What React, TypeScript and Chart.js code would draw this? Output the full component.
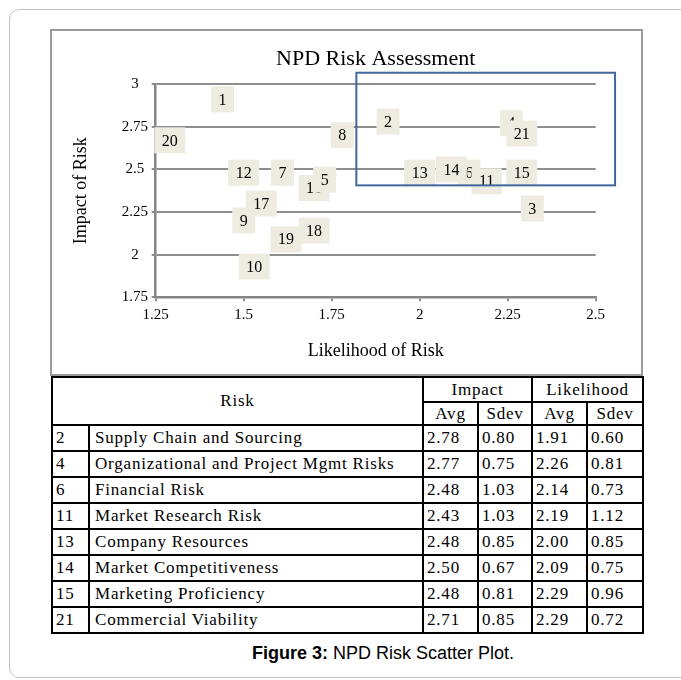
import React, { useEffect, useRef } from "react";
import { Chart, registerables } from "chart.js";

Chart.register(...registerables);

// ---- Scatter data (drawn in this order so overlapping labels stack like the reference)
const RISK_IDS = ["20", "1", "8", "2", "12", "7", "16", "5", "17", "9", "19", "18", "10", "13", "6", "14", "11", "4", "21", "15", "3"];
const LIKELIHOOD = [1.29, 1.44, 1.78, 1.91, 1.5, 1.61, 1.7, 1.73, 1.55, 1.5, 1.62, 1.7, 1.53, 2.0, 2.14, 2.09, 2.19, 2.26, 2.29, 2.29, 2.32];
const IMPACT = [2.67, 2.91, 2.7, 2.78, 2.48, 2.48, 2.39, 2.44, 2.3, 2.2, 2.09, 2.14, 1.93, 2.48, 2.48, 2.5, 2.43, 2.77, 2.71, 2.48, 2.27];

// High-risk region outline (data coordinates)
const HIGH_RISK_LIKELIHOOD = [1.82, 2.555];
const HIGH_RISK_IMPACT = [2.406, 3.066];

const X_TICKS = [1.25, 1.5, 1.75, 2, 2.25, 2.5];
const Y_TICKS = [1.75, 2, 2.25, 2.5, 2.75, 3];

// ---- Table data
const TABLE_IDS = ["2", "4", "6", "11", "13", "14", "15", "21"];
const TABLE_RISKS = [
  "Supply Chain and Sourcing",
  "Organizational and Project Mgmt Risks",
  "Financial Risk",
  "Market Research Risk",
  "Company Resources",
  "Market Competitiveness",
  "Marketing Proficiency",
  "Commercial Viability",
];
const TABLE_IMPACT_AVG = ["2.78", "2.77", "2.48", "2.43", "2.48", "2.50", "2.48", "2.71"];
const TABLE_IMPACT_SDEV = ["0.80", "0.75", "1.03", "1.03", "0.85", "0.67", "0.81", "0.85"];
const TABLE_LIKELIHOOD_AVG = ["1.91", "2.26", "2.14", "2.19", "2.00", "2.09", "2.29", "2.29"];
const TABLE_LIKELIHOOD_SDEV = ["0.60", "0.81", "0.73", "1.12", "0.85", "0.75", "0.96", "0.72"];

const SERIF = "'Liberation Serif', 'Times New Roman', serif";
const SANS = "'Liberation Sans', Arial, sans-serif";
const GRID = "#8e8e8e";
const AXIS = "#858585";

const CANVAS_W = 589;
const CANVAS_H = 343;

const tickText = (v: any) => String(Number(v));

export default function App() {
  const ref = useRef<HTMLCanvasElement>(null);

  useEffect(() => {
    const canvas = ref.current;
    if (!canvas) return;

    const labelPlugin = {
      id: "riskLabels",
      afterDatasetsDraw(chart: any) {
        const ctx = chart.ctx;
        const meta = chart.getDatasetMeta(0);
        ctx.save();
        ctx.font = `16px ${SERIF}`;
        ctx.textAlign = "center";
        ctx.textBaseline = "middle";
        meta.data.forEach((el: any, i: number) => {
          const text = RISK_IDS[i];
          const w = ctx.measureText(text).width + 15;
          const h = 26;
          ctx.fillStyle = "#EEECE1";
          ctx.fillRect(el.x - w / 2, el.y - h / 2, w, h);
          ctx.fillStyle = "#000";
          ctx.fillText(text, el.x, el.y + 1);
        });
        ctx.restore();
      },
    };

    const regionPlugin = {
      id: "highRiskRegion",
      afterDraw(chart: any) {
        const ctx = chart.ctx;
        const xs = chart.scales.x;
        const ys = chart.scales.y;
        const l = xs.getPixelForValue(HIGH_RISK_LIKELIHOOD[0]);
        const r = xs.getPixelForValue(HIGH_RISK_LIKELIHOOD[1]);
        const t = ys.getPixelForValue(HIGH_RISK_IMPACT[1]);
        const b = ys.getPixelForValue(HIGH_RISK_IMPACT[0]);
        ctx.save();
        ctx.strokeStyle = "#41669B";
        ctx.lineWidth = 2;
        ctx.strokeRect(l, t, r - l, b - t);
        ctx.restore();
      },
    };

    const chart = new Chart(canvas, {
      type: "scatter",
      data: {
        datasets: [
          {
            data: LIKELIHOOD.map((v, i) => ({ x: v, y: IMPACT[i] })),
            pointRadius: 0,
            pointHoverRadius: 0,
            showLine: false,
          },
        ],
      },
      options: {
        animation: false,
        responsive: false,
        devicePixelRatio: 1,
        events: [],
        layout: { padding: { left: 0, right: 45.3, top: 0, bottom: 0 } },
        plugins: {
          legend: { display: false },
          tooltip: { enabled: false },
          title: {
            display: true,
            text: "NPD Risk Assessment",
            fullSize: false,
            color: "#000",
            font: { family: SERIF, size: 22, weight: "normal" },
            padding: { top: 14.7, bottom: 11.9 },
          },
        },
        scales: {
          x: {
            type: "linear",
            min: 1.25,
            max: 2.5,
            afterBuildTicks: (s: any) => {
              s.ticks = X_TICKS.map((v) => ({ value: v }));
            },
            afterFit: (s: any) => {
              s.height = 76.7;
            },
            grid: {
              display: true,
              drawOnChartArea: false,
              drawTicks: true,
              tickLength: 4,
              color: GRID,
              lineWidth: 2,
            },
            border: { display: true, color: AXIS, width: 2.5 },
            ticks: {
              color: "#000",
              font: { family: SERIF, size: 15 },
              padding: 5,
              maxRotation: 0,
              callback: tickText,
            },
            title: {
              display: true,
              text: "Likelihood of Risk",
              color: "#000",
              font: { family: SERIF, size: 18 },
              padding: { top: 0, bottom: 11.9 },
            },
          },
          y: {
            type: "linear",
            min: 1.75,
            max: 3,
            afterBuildTicks: (s: any) => {
              s.ticks = Y_TICKS.map((v) => ({ value: v }));
            },
            afterFit: (s: any) => {
              s.width = 103.7;
            },
            grid: {
              display: true,
              drawOnChartArea: true,
              drawTicks: true,
              tickLength: 4,
              color: GRID,
              lineWidth: 2,
            },
            border: { display: true, color: AXIS, width: 2.5 },
            ticks: {
              color: "#000",
              font: { family: SERIF, size: 15 },
              padding: 3.6,
              crossAlign: "center",
              callback: tickText,
            },
            title: {
              display: true,
              text: "Impact of Risk",
              color: "#000",
              font: { family: SERIF, size: 18 },
              padding: { top: 18.2, bottom: 0 },
            },
          },
        },
      },
      plugins: [labelPlugin, regionPlugin],
    } as any);

    return () => chart.destroy();
  }, []);

  const cellBase: React.CSSProperties = {
    background: "#fff",
    display: "flex",
    alignItems: "center",
    fontFamily: SERIF,
    fontSize: 17,
    letterSpacing: "0.8px",
    color: "#000",
    whiteSpace: "nowrap",
    overflow: "hidden",
  };
  const center: React.CSSProperties = { ...cellBase, justifyContent: "center" };
  const left: React.CSSProperties = { ...cellBase, justifyContent: "flex-start", paddingLeft: 3 };

  return (
    <div
      style={{
        position: "absolute",
        left: 0,
        top: 0,
        width: 681,
        height: 680,
        overflow: "hidden",
        background: "#fff",
      }}
    >
      {/* figure frame */}
      <div
        style={{
          position: "absolute",
          left: 9,
          top: 9,
          width: 720,
          height: 669,
          border: "1.5px solid #c4c4c4",
          borderRadius: 10,
          boxSizing: "border-box",
        }}
      />
      {/* chart frame */}
      <div
        style={{
          position: "absolute",
          left: 50,
          top: 29,
          width: CANVAS_W + 4,
          height: CANVAS_H + 4,
          border: "2px solid #9a9a9a",
          boxSizing: "border-box",
        }}
      >
        <canvas
          ref={ref}
          width={CANVAS_W}
          height={CANVAS_H}
          style={{ position: "absolute", left: 0, top: 0, width: CANVAS_W, height: CANVAS_H }}
        />
      </div>
      {/* table */}
      <div
        style={{
          position: "absolute",
          left: 51,
          top: 376,
          width: 593,
          height: 258,
          boxSizing: "border-box",
          background: "#000",
          padding: 2,
          display: "grid",
          gridTemplateColumns: "35px 332px 53px 52px 53px 54px",
          gridTemplateRows: "23px 21px repeat(8, 24px)",
          gap: 2,
        }}
      >
        <div style={{ ...center, gridColumn: "1 / span 2", gridRow: "1 / span 2" }}>Risk</div>
        <div style={{ ...center, gridColumn: "3 / span 2", gridRow: "1" }}>Impact</div>
        <div style={{ ...center, gridColumn: "5 / span 2", gridRow: "1" }}>Likelihood</div>
        <div style={{ ...center, gridColumn: "3", gridRow: "2" }}>Avg</div>
        <div style={{ ...center, gridColumn: "4", gridRow: "2" }}>Sdev</div>
        <div style={{ ...center, gridColumn: "5", gridRow: "2" }}>Avg</div>
        <div style={{ ...center, gridColumn: "6", gridRow: "2" }}>Sdev</div>
        {TABLE_IDS.map((id, i) => (
          <React.Fragment key={id}>
            <div style={{ ...left, gridColumn: "1", gridRow: String(i + 3) }}>{id}</div>
            <div style={{ ...left, gridColumn: "2", gridRow: String(i + 3), paddingLeft: 5 }}>{TABLE_RISKS[i]}</div>
            <div style={{ ...left, gridColumn: "3", gridRow: String(i + 3) }}>{TABLE_IMPACT_AVG[i]}</div>
            <div style={{ ...left, gridColumn: "4", gridRow: String(i + 3) }}>{TABLE_IMPACT_SDEV[i]}</div>
            <div style={{ ...left, gridColumn: "5", gridRow: String(i + 3) }}>{TABLE_LIKELIHOOD_AVG[i]}</div>
            <div style={{ ...left, gridColumn: "6", gridRow: String(i + 3) }}>{TABLE_LIKELIHOOD_SDEV[i]}</div>
          </React.Fragment>
        ))}
      </div>
      {/* caption */}
      <div
        style={{
          position: "absolute",
          left: 0,
          top: 642,
          width: 766,
          textAlign: "center",
          fontFamily: SANS,
          fontSize: 18,
          lineHeight: "22px",
          color: "#000",
          whiteSpace: "nowrap",
        }}
      >
        <b>Figure 3:</b> NPD Risk Scatter Plot.
      </div>
    </div>
  );
}
